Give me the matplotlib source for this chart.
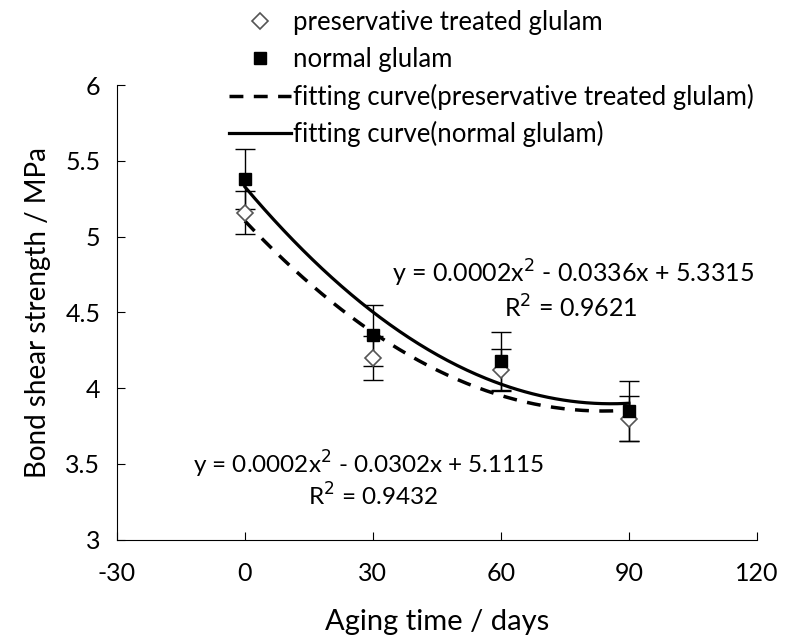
import matplotlib.pyplot as plt
import numpy as np

plt.rcParams['font.family'] = ['Lato', 'DejaVu Sans']
plt.rcParams['axes.unicode_minus'] = False

days = np.array([0, 30, 60, 90])
treated = np.array([5.16, 4.20, 4.12, 3.80])
treated_err = np.array([0.145, 0.145, 0.14, 0.15])
normal = np.array([5.38, 4.35, 4.18, 3.85])
normal_err = np.array([0.20, 0.20, 0.19, 0.20])

eq_normal = "y = 0.0002x$^2$ - 0.0336x + 5.3315"
r2_normal = "R$^2$ = 0.9621"
eq_treated = "y = 0.0002x$^2$ - 0.0302x + 5.1115"
r2_treated = "R$^2$ = 0.9432"

# quadratic trend lines
xs = np.linspace(0, 90, 200)
fit_t = np.polyval(np.polyfit(days, treated, 2), xs)
fit_n = np.polyval(np.polyfit(days, normal, 2), xs)

fig = plt.figure(figsize=(8.01, 6.41), dpi=100)
ax = fig.add_axes((0.146, 0.158, 0.799, 0.709))

l1, = ax.plot(xs, fit_t, color="black", lw=2.5, linestyle=(0, (4, 3)))
l2, = ax.plot(xs, fit_n, color="black", lw=2.3)

ax.errorbar(days, normal, yerr=normal_err, fmt="none", ecolor="black", elinewidth=1, capsize=7, capthick=1)
ax.errorbar(days, treated, yerr=treated_err, fmt="none", ecolor="black", elinewidth=1, capsize=7, capthick=1)
p1, = ax.plot(days, treated, "D", markersize=8, markerfacecolor="white", markeredgecolor="#555555", markeredgewidth=1.2, linestyle="none")
p2, = ax.plot(days, normal, "s", markersize=9, color="black", linestyle="none")

ax.set_xlim(-30, 120)
ax.set_ylim(3, 6)
ax.set_xticks([-30, 0, 30, 60, 90, 120])
ax.set_yticks([3, 3.5, 4, 4.5, 5, 5.5, 6])
ax.set_yticklabels(["3", "3.5", "4", "4.5", "5", "5.5", "6"])
ax.tick_params(direction="in", length=6, labelsize=18)
ax.tick_params(axis="y", pad=12)
ax.tick_params(axis="x", pad=16)
ax.spines["top"].set_visible(False)
ax.spines["right"].set_visible(False)
ax.set_xlabel("Aging time / days", fontsize=21, labelpad=17)
ax.set_ylabel("Bond shear strength / MPa", fontsize=20, labelpad=10)

ax.text(77, 4.76, eq_normal, fontsize=18, ha="center", va="center")
ax.text(76.5, 4.53, r2_normal, fontsize=18, ha="center", va="center")
ax.text(29, 3.50, eq_treated, fontsize=17.5, ha="center", va="center")
ax.text(30, 3.29, r2_treated, fontsize=17.5, ha="center", va="center")

fig.legend([p1, p2, l1, l2],
           ["preservative treated glulam", "normal glulam",
            "fitting curve(preservative treated glulam)", "fitting curve(normal glulam)"],
           loc="upper left", bbox_to_anchor=(0.257, 1.02), frameon=False, fontsize=18.5,
           handlelength=2.4, handletextpad=0.1, labelspacing=0.45)

plt.savefig("out.png")
